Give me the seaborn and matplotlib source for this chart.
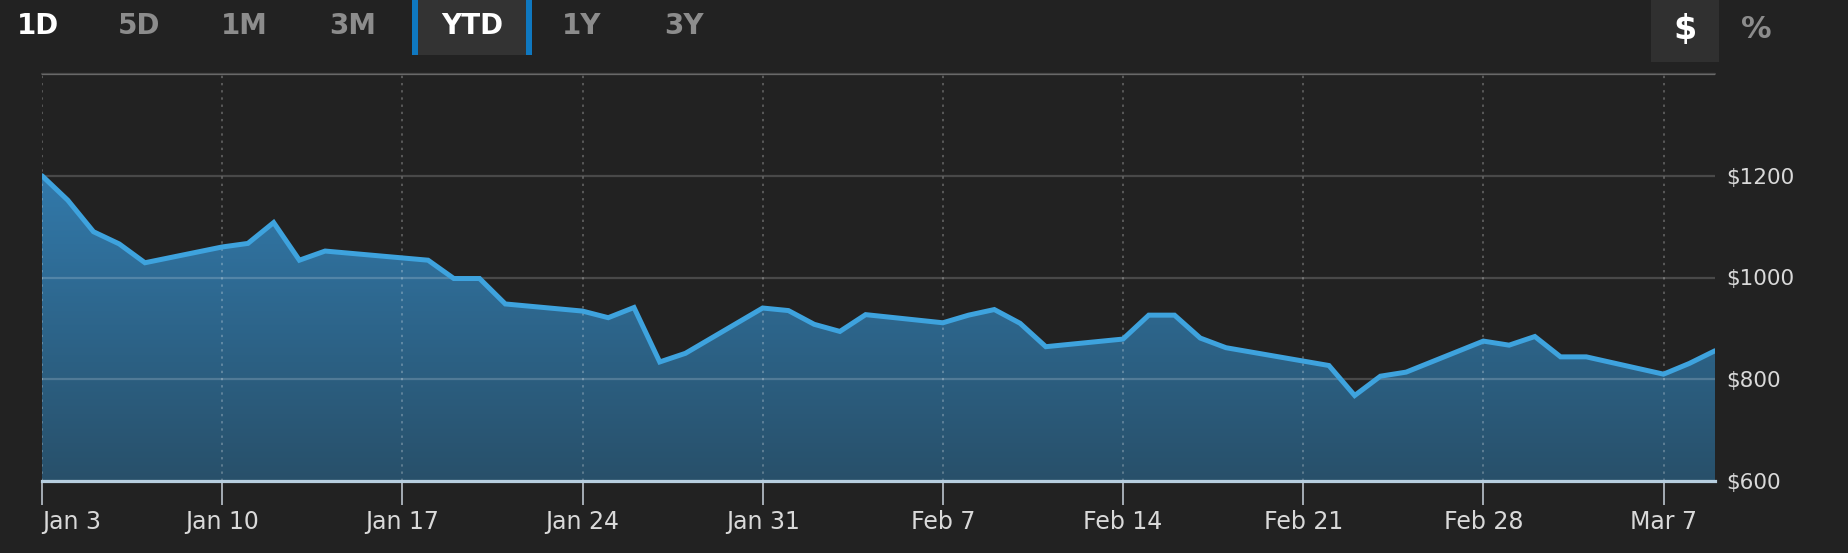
import matplotlib
matplotlib.use("Agg")
import matplotlib.pyplot as plt
import matplotlib.dates as mdates
from matplotlib.patches import Rectangle
from matplotlib.colors import to_rgb
import seaborn as sns
import pandas as pd
import numpy as np

# trading days, YTD 2022
dates = ["2022-01-03", "2022-01-04", "2022-01-05", "2022-01-06", "2022-01-07",
         "2022-01-10", "2022-01-11", "2022-01-12", "2022-01-13", "2022-01-14",
         "2022-01-18", "2022-01-19", "2022-01-20", "2022-01-21",
         "2022-01-24", "2022-01-25", "2022-01-26", "2022-01-27", "2022-01-28",
         "2022-01-31", "2022-02-01", "2022-02-02", "2022-02-03", "2022-02-04",
         "2022-02-07", "2022-02-08", "2022-02-09", "2022-02-10", "2022-02-11",
         "2022-02-14", "2022-02-15", "2022-02-16", "2022-02-17", "2022-02-18",
         "2022-02-22", "2022-02-23", "2022-02-24", "2022-02-25",
         "2022-02-28", "2022-03-01", "2022-03-02", "2022-03-03", "2022-03-04",
         "2022-03-07", "2022-03-08", "2022-03-09"]
values = [1200, 1152, 1090, 1066, 1029,
          1060, 1067, 1108, 1034, 1052,
          1034, 998, 998, 948,
          934, 921, 941, 834, 851,
          940, 935, 908, 894, 927,
          911, 926, 937, 910, 864,
          879, 926, 926, 881, 862,
          827, 768, 806, 814,
          875, 867, 884, 844, 844,
          810, 831, 856]

week_ticks = ["2022-01-03", "2022-01-10", "2022-01-17", "2022-01-24", "2022-01-31",
              "2022-02-07", "2022-02-14", "2022-02-21", "2022-02-28", "2022-03-07"]
week_labels = ["Jan 3", "Jan 10", "Jan 17", "Jan 24", "Jan 31",
               "Feb 7", "Feb 14", "Feb 21", "Feb 28", "Mar 7"]
price_ticks = [600, 800, 1000, 1200, 1400]
price_labels = ["$600", "$800", "$1000", "$1200", ""]

range_buttons = ["1D", "5D", "1M", "3M", "YTD", "1Y", "3Y"]
range_x = [38, 139, 244, 353, 472, 582, 684]
range_active = ["1D", "YTD"]

BG = "#222222"
LINE = "#3ea3de"
TXT = "#d9d9d9"
W, H = 1849, 553

sns.set_theme(style="dark", rc={"figure.facecolor": BG, "axes.facecolor": BG,
                                "savefig.facecolor": BG})
plt.rcParams["font.family"] = ["DejaVu Sans"]

df = pd.DataFrame({"date": pd.to_datetime(dates), "value": values})

fig = plt.figure(figsize=(W / 100, H / 100), dpi=100)
ax = fig.add_axes([42 / W, 1 - 481 / H, (1715 - 42) / W, (481 - 74) / H])

x0 = pd.Timestamp("2022-01-03")
x1 = pd.Timestamp("2022-03-09")
ymin, ymax = 600, 1400

# gradient area under the line
poly = ax.fill_between(df["date"], df["value"], ymin, color="none", lw=0)
top_c = np.array(to_rgb("#3587c0"))
bot_c = np.array(to_rgb("#28506a"))
t = np.linspace(0, 1, 256)[:, None]
grad = (top_c * (1 - t) + bot_c * t)[:, None, :]
im = ax.imshow(grad, aspect="auto", origin="upper", zorder=1,
               extent=[mdates.date2num(x0), mdates.date2num(x1), ymin, ymax])
im.set_clip_path(poly.get_paths()[0], ax.transData)

sns.lineplot(data=df, x="date", y="value", ax=ax, color=LINE, linewidth=3.6,
             zorder=5)
for ln in ax.lines:
    ln.set_solid_joinstyle("miter")

ax.set_xlim(x0, x1)
ax.set_ylim(ymin, ymax)
ax.set_xlabel("")
ax.set_ylabel("")

# grid
ax.set_axisbelow(False)
ax.set_yticks(price_ticks)
ax.set_yticklabels(price_labels)
ax.set_xticks(pd.to_datetime(week_ticks))
ax.set_xticklabels(week_labels)
ax.grid(axis="y", color="white", alpha=0.18, lw=1.6, zorder=3)
ax.grid(axis="x", color="white", alpha=0.25, lw=1.4, ls=(0, (1.2, 2.5)), zorder=3)
ax.axhline(ymax, color="white", alpha=0.18, lw=1.6, clip_on=False, zorder=3)

ax.yaxis.tick_right()
ax.tick_params(axis="y", length=0, pad=8, labelsize=15.5, labelcolor=TXT)
ax.tick_params(axis="x", bottom=True, length=17, width=1.1, color="#c8d2dc",
               labelsize=17, labelcolor=TXT, pad=4)
ax.get_xticklabels()[0].set_horizontalalignment("left")

for s in ["left", "right", "top"]:
    ax.spines[s].set_visible(False)
ax.spines["bottom"].set_color("#b8cfe0")
ax.spines["bottom"].set_linewidth(2.3)
ax.spines["bottom"].set_zorder(6)


def fbox(px0, py0, px1, py1, color):
    fig.add_artist(Rectangle((px0 / W, 1 - py1 / H), (px1 - px0) / W, (py1 - py0) / H,
                             transform=fig.transFigure, facecolor=color, lw=0))


# range selector
fbox(412, 0, 532, 55, "#333333")
fbox(412, 0, 418, 55, "#0f78c0")
fbox(526, 0, 532, 55, "#0f78c0")
for lab, bx in zip(range_buttons, range_x):
    fig.text(bx / W, 1 - 26 / H, lab, ha="center", va="center", fontsize=20,
             fontweight="bold", color="white" if lab in range_active else "#8c8c8c")

# $ / % toggle
fbox(1651, 0, 1719, 62, "#303030")
fig.text(1685 / W, 1 - 30 / H, "$", ha="center", va="center", fontsize=24,
         fontweight="bold", color="white")
fig.text(1756 / W, 1 - 30 / H, "%", ha="center", va="center", fontsize=22,
         fontweight="bold", color="#8c8c8c")

fig.savefig("out.png", dpi=100, facecolor=BG)
